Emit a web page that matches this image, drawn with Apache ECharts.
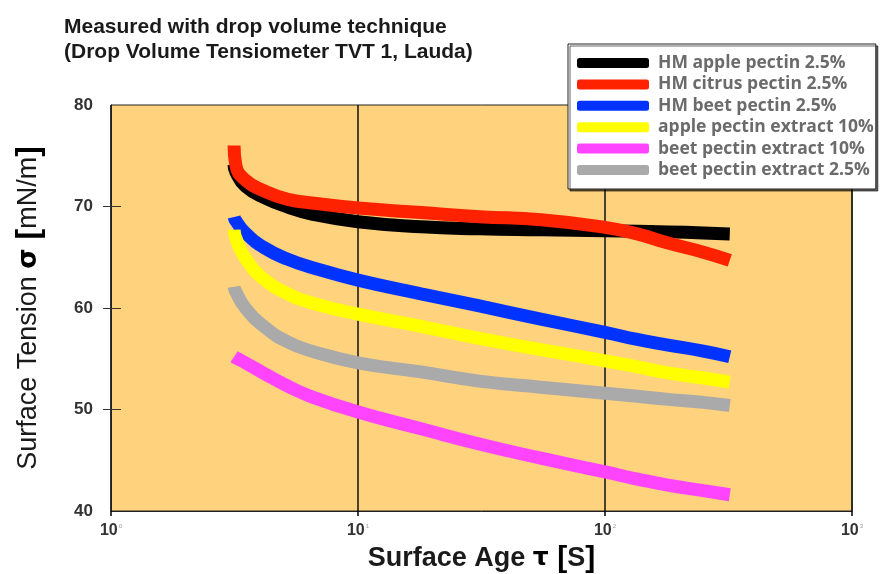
<!DOCTYPE html>
<html lang="en">
<head>
    <meta charset="UTF-8">
    <title>Surface Tension vs Surface Age</title>
    <style>
        body {
            margin: 0;
            padding: 0;
            background: #fff;
        }

        #chart {
            width: 880px;
            height: 574px;
        }
    </style>
    <script src="https://cdn.jsdelivr.net/npm/echarts@6.0.0/dist/echarts.min.js"></script>
</head>
<body>
    <div id="chart"></div>

    <script>
        // surface age in seconds (shared by all curves)
        const ages = [3.15, 3.2, 3.5, 4.2, 5.2, 6.5, 10, 18, 31, 55, 100, 135, 180, 250, 320];

        // surface tension in mN/m
        const hmApple = [74.1, 73.4, 72.0, 70.85, 69.95, 69.25, 68.5, 68.0, 67.8, 67.7, 67.6, 67.55, 67.5, 67.4, 67.3];
        const hmCitrus = [76.0, 74.1, 72.6, 71.5, 70.7, 70.35, 69.85, 69.4, 69.0, 68.7, 67.95, 67.3, 66.4, 65.5, 64.7];
        const hmBeet = [68.97, 68.6, 67.4, 65.9, 64.8, 64.0, 62.75, 61.4, 60.2, 58.9, 57.6, 56.9, 56.35, 55.75, 55.2];
        const appleExtract10 = [67.7, 66.9, 64.9, 62.75, 61.4, 60.5, 59.4, 58.2, 57.0, 55.9, 54.8, 54.2, 53.6, 53.1, 52.7];
        const beetExtract10 = [55.2, 55.1, 54.6, 53.5, 52.3, 51.25, 49.75, 48.1, 46.6, 45.2, 43.85, 43.15, 42.55, 42.0, 41.6];
        const beetExtract25 = [62.1, 61.6, 60.0, 58.1, 56.65, 55.75, 54.6, 53.7, 52.8, 52.2, 51.6, 51.3, 51.0, 50.7, 50.4];

        const seriesNames = [
            'HM apple pectin 2.5%',
            'HM citrus pectin 2.5%',
            'HM beet pectin 2.5%',
            'apple pectin extract 10%',
            'beet pectin extract 10%',
            'beet pectin extract 2.5%'
        ];
        const seriesValues = [hmApple, hmCitrus, hmBeet, appleExtract10, beetExtract10, beetExtract25];
        const seriesColors = ['#000000', '#ff2200', '#0033ff', '#ffff00', '#ff44ff', '#aaaaaa'];

        const yTicks = [50, 60, 70];

        function pairs(values) {
            return ages.map((a, i) => [a, values[i]]);
        }

        const chart = echarts.init(document.getElementById('chart'));

        const series = seriesNames.map((name, i) => ({
            name: name,
            type: 'line',
            data: pairs(seriesValues[i]),
            smooth: 0.5,
            showSymbol: false,
            symbol: 'none',
            color: seriesColors[i],
            lineStyle: {
                width: 13,
                color: seriesColors[i]
            },
            z: 3
        }));

        const option = {
            animation: false,
            backgroundColor: '#fff',
            title: {
                text: 'Measured with drop volume technique\n(Drop Volume Tensiometer TVT 1, Lauda)',
                left: 59,
                top: 10,
                textStyle: {
                    fontFamily: 'Liberation Sans',
                    fontWeight: 'bold',
                    fontSize: 21,
                    lineHeight: 25,
                    color: '#1a1a1a'
                }
            },
            legend: {
                orient: 'vertical',
                left: 568,
                top: 44,
                padding: [9, 2, 9, 9],
                itemWidth: 72,
                itemHeight: 10,
                itemGap: 1.4,
                icon: 'roundRect',
                backgroundColor: '#fff',
                borderColor: '#222',
                borderWidth: 1,
                shadowColor: 'rgba(0,0,0,0.6)',
                shadowOffsetX: 2,
                shadowOffsetY: 2,
                shadowBlur: 0,
                textStyle: {
                    fontFamily: 'Open Sans',
                    fontWeight: 'bold',
                    fontSize: 17.5,
                    lineHeight: 20,
                    color: '#6b6b6b',
                    padding: [0, 0, 0, 4]
                },
                data: seriesNames
            },
            grid: {
                left: 111,
                right: 28,
                top: 105,
                bottom: 63,
                outerBoundsMode: 'none',
                show: true,
                backgroundColor: '#ffd27d',
                borderColor: '#222',
                borderWidth: 1
            },
            xAxis: {
                type: 'log',
                logBase: 10,
                min: 1,
                max: 1000,
                name: '{t|Surface Age }{s|τ }{b|[}{t|S}{b|]}',
                nameLocation: 'middle',
                nameGap: 31,
                nameTextStyle: {
                    rich: {
                        t: { fontFamily: 'Liberation Sans', fontWeight: 'bold', fontSize: 27, color: '#1a1a1a' },
                        s: { fontFamily: 'DejaVu Sans', fontWeight: 'bold', fontSize: 25, color: '#000' },
                        b: { fontFamily: 'Liberation Sans', fontWeight: 'bold', fontSize: 30, color: '#000' }
                    }
                },
                axisLine: { show: true, lineStyle: { color: '#222', width: 1 } },
                axisTick: { show: true, length: 5, lineStyle: { color: '#000', width: 1.5 } },
                splitLine: { show: true, lineStyle: { color: '#111', width: 1.5 } },
                axisLabel: {
                    margin: 12,
                    formatter: function (v) {
                        return '{n|10}{e|' + Math.round(Math.log10(v)) + '}';
                    },
                    rich: {
                        n: { fontFamily: 'Liberation Sans', fontWeight: 'bold', fontSize: 16, color: '#333' },
                        e: { fontFamily: 'Liberation Sans', fontSize: 6, color: '#999', verticalAlign: 'top', padding: [0, 0, 10, 1] }
                    }
                }
            },
            yAxis: [
                {
                    type: 'value',
                    min: 40,
                    max: 80,
                    interval: 10,
                    name: '{t|Surface Tension }{s|σ }{b|[}{t|mN/m}{b|]}',
                    nameLocation: 'middle',
                    nameGap: 66,
                    nameTextStyle: {
                        rich: {
                            t: { fontFamily: 'Liberation Sans', fontSize: 27, color: '#1a1a1a' },
                            s: { fontFamily: 'DejaVu Sans', fontWeight: 'bold', fontSize: 26, color: '#000' },
                            b: { fontFamily: 'Liberation Sans', fontWeight: 'bold', fontSize: 32, color: '#000' }
                        }
                    },
                    axisLine: { show: true, lineStyle: { color: '#222', width: 1 } },
                    axisTick: { show: true, length: 8, customValues: yTicks, lineStyle: { color: '#333' } },
                    splitLine: { show: false },
                    axisLabel: {
                        margin: 18,
                        fontFamily: 'Liberation Sans',
                        fontWeight: 'bold',
                        fontSize: 17,
                        color: '#333'
                    }
                },
                {
                    type: 'value',
                    min: 40,
                    max: 80,
                    interval: 10,
                    position: 'left',
                    axisLine: { show: false },
                    axisLabel: { show: false },
                    splitLine: { show: false },
                    axisTick: { show: true, inside: true, length: 10, customValues: yTicks, lineStyle: { color: '#333' } }
                }
            ],
            series: series
        };

        chart.setOption(option);
    </script>
</body>
</html>
